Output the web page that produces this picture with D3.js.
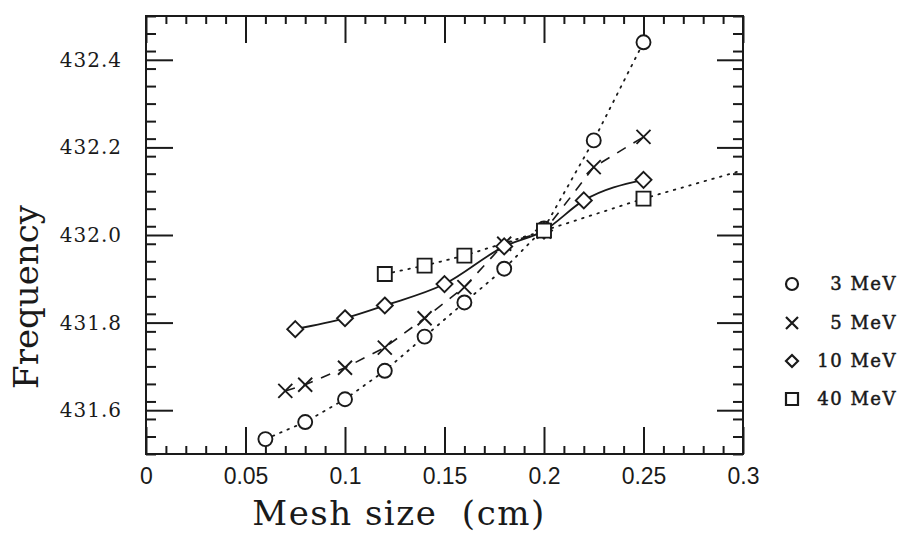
<!DOCTYPE html>
<html><head><meta charset="utf-8">
<script src="https://cdn.jsdelivr.net/npm/d3@7"></script>
<style>body{margin:0;background:#fff}svg{display:block}</style>
</head><body>
<svg id="c" width="906" height="535"></svg>
<script>
// ---- data ----
const xTicks = [0, 0.05, 0.1, 0.15, 0.2, 0.25, 0.3];
const xTickLabels = ["0", "0.05", "0.1", "0.15", "0.2", "0.25", "0.3"];
const yTicks = [431.6, 431.8, 432.0, 432.2, 432.4];
const yTickLabels = ["431.6", "431.8", "432.0", "432.2", "432.4"];
const legendLabels = ["3 MeV", "5 MeV", "10 MeV", "40 MeV"];

const mesh3 = [0.06, 0.08, 0.10, 0.12, 0.14, 0.16, 0.18, 0.20, 0.225, 0.25];
const freq3 = [431.534, 431.573, 431.625, 431.690, 431.768, 431.846, 431.923, 432.015, 432.216, 432.440];

const mesh5 = [0.07, 0.08, 0.10, 0.12, 0.14, 0.16, 0.18, 0.20, 0.225, 0.25];
const freq5 = [431.644, 431.658, 431.697, 431.743, 431.810, 431.881, 431.980, 432.008, 432.155, 432.224];

const mesh10 = [0.075, 0.10, 0.12, 0.15, 0.18, 0.20, 0.22, 0.25];
const freq10 = [431.785, 431.810, 431.839, 431.888, 431.974, 432.010, 432.079, 432.126];

const mesh40 = [0.12, 0.14, 0.16, 0.20, 0.25];
const freq40 = [431.911, 431.930, 431.953, 432.010, 432.083];
// dotted 40 MeV trend carried on to the frame edge
const mesh40Trend = [0.20, 0.25, 0.30];
const freq40Trend = [432.010, 432.083, 432.148];

// ---- layout ----
const svg = d3.select("#c");
const L = 146, R = 743, T = 16, B = 454;
const x = d3.scaleLinear().domain([0, 0.3]).range([L, R]);
const y = d3.scaleLinear().domain([431.5, 432.5]).range([B, T]);
const ink = "#1a1a1a";

// frame
svg.append("rect").attr("x", L).attr("y", T).attr("width", R - L).attr("height", B - T)
  .attr("fill", "none").attr("stroke", ink).attr("stroke-width", 2);

const xMinor = d3.range(0, 31).map(i => i / 100);
const yMinor = d3.range(0, 26).map(i => 431.5 + i * 0.04);
const isXMajor = v => Math.abs(Math.round(v * 20) - v * 20) < 1e-6;
const isYMajor = v => Math.abs(Math.round((v - 431.6) * 5) - (v - 431.6) * 5) < 1e-6;
const xMin = xMinor.filter(v => !isXMajor(v));
const yMin = yMinor.filter(v => !isYMajor(v));

// bottom & top axes (inward ticks)
svg.append("g").attr("transform", `translate(0,${B})`)
  .call(d3.axisBottom(x).tickValues(xMin).tickSizeInner(-8).tickSizeOuter(0).tickFormat(""));
const axB2 = svg.append("g").attr("transform", `translate(0,${B})`)
  .call(d3.axisBottom(x).tickValues(xTicks).tickSizeInner(-27).tickSizeOuter(0)
    .tickFormat((d, i) => xTickLabels[i]));
svg.append("g").attr("transform", `translate(0,${T})`)
  .call(d3.axisTop(x).tickValues(xMin).tickSizeInner(-8).tickSizeOuter(0).tickFormat(""));
svg.append("g").attr("transform", `translate(0,${T})`)
  .call(d3.axisTop(x).tickValues(xTicks).tickSizeInner(-27).tickSizeOuter(0).tickFormat(""));
// left & right
svg.append("g").attr("transform", `translate(${L},0)`)
  .call(d3.axisLeft(y).tickValues(yMin).tickSizeInner(-10).tickSizeOuter(0).tickFormat(""));
const axL2 = svg.append("g").attr("transform", `translate(${L},0)`)
  .call(d3.axisLeft(y).tickValues(yTicks).tickSizeInner(-27).tickSizeOuter(0).tickPadding(24)
    .tickFormat((d, i) => yTickLabels[i]));
svg.append("g").attr("transform", `translate(${R},0)`)
  .call(d3.axisRight(y).tickValues(yMin).tickSizeInner(-10).tickSizeOuter(0).tickFormat(""));
svg.append("g").attr("transform", `translate(${R},0)`)
  .call(d3.axisRight(y).tickValues(yTicks).tickSizeInner(-26).tickSizeOuter(0).tickFormat(""));

svg.selectAll(".domain").remove();
svg.selectAll(".tick line").attr("stroke", ink).attr("stroke-width", 2);
axB2.selectAll("text").attr("font-family", "Liberation Sans, Arial, sans-serif").attr("font-size", 23)
  .attr("fill", ink).attr("y", 14).attr("dy", "0.71em");
axL2.selectAll("text").attr("font-family", "DejaVu Serif, serif").attr("font-size", 20)
  .attr("letter-spacing", 1).attr("fill", ink);

// ---- series lines ----
const pts = (xs, ys) => xs.map((v, i) => [x(v), y(ys[i])]);
const line = d3.line();
const dot = "1.6,6.4";

svg.append("path").attr("d", line(pts(mesh3, freq3))).attr("fill", "none").attr("stroke", ink)
  .attr("stroke-width", 1.8).attr("stroke-dasharray", dot).attr("stroke-linecap", "round");
svg.append("path").attr("d", line(pts(mesh40.slice(0, 4), freq40.slice(0, 4)))).attr("fill", "none").attr("stroke", ink)
  .attr("stroke-width", 1.8).attr("stroke-dasharray", dot).attr("stroke-linecap", "round");
svg.append("path").attr("d", line(pts(mesh40Trend, freq40Trend))).attr("fill", "none").attr("stroke", ink)
  .attr("stroke-width", 1.8).attr("stroke-dasharray", dot).attr("stroke-linecap", "round");
svg.append("path").attr("d", line(pts(mesh5, freq5))).attr("fill", "none").attr("stroke", ink)
  .attr("stroke-width", 1.6).attr("stroke-dasharray", "10,9");
svg.append("path").attr("d", d3.line().curve(d3.curveMonotoneX)(pts(mesh10, freq10))).attr("fill", "none")
  .attr("stroke", ink).attr("stroke-width", 1.8);

// ---- markers ----
const sym = {
  circle: s => { const r = s / 2; return `M${r},0A${r},${r},0,1,1,${-r},0A${r},${r},0,1,1,${r},0Z`; },
  cross: s => { const r = s / 2; return `M${-r},${-r}L${r},${r}M${r},${-r}L${-r},${r}`; },
  diamond: s => { const r = s / 2; return `M0,${-r}L${r},0L0,${r}L${-r},0Z`; },
  square: s => { const r = s / 2; return `M${-r},${-r}H${r}V${r}H${-r}Z`; }
};
function markers(xs, ys, kind, size) {
  svg.append("g").selectAll("path").data(xs).join("path")
    .attr("transform", (d, i) => `translate(${x(d)},${y(ys[i])})`)
    .attr("d", sym[kind](size))
    .attr("fill", kind === "cross" ? "none" : "#fff").attr("stroke", ink).attr("stroke-width", 1.9);
}
markers(mesh3, freq3, "circle", 14);
markers(mesh5, freq5, "cross", 14);
markers(mesh10, freq10, "diamond", 16);
markers(mesh40, freq40, "square", 14);

// ---- axis titles ----
svg.append("text").attr("x", 399).attr("y", 525).attr("text-anchor", "middle")
  .attr("font-family", "DejaVu Serif, serif").attr("font-size", 34).attr("letter-spacing", 1.5).attr("fill", ink)
  .attr("xml:space", "preserve").style("white-space", "pre").text("Mesh size  (cm)");
svg.append("text").attr("transform", "translate(38,297) rotate(-90)").attr("text-anchor", "middle")
  .attr("font-family", "DejaVu Serif, serif").attr("font-size", 34).attr("fill", ink).text("Frequency");

// ---- legend ----
const legKinds = ["circle", "cross", "diamond", "square"];
const legY = [284, 323, 361, 399];
const leg = svg.append("g");
legendLabels.forEach((lab, i) => {
  leg.append("path").attr("transform", `translate(792,${legY[i]})`).attr("d", sym[legKinds[i]](12))
    .attr("fill", "none").attr("stroke", ink).attr("stroke-width", 2.2);
  leg.append("text").attr("x", 897).attr("y", legY[i]).attr("dy", "0.36em").attr("text-anchor", "end")
    .attr("font-family", "DejaVu Serif, serif").attr("font-size", 18)
    .attr("stroke", ink).attr("stroke-width", 0.5)
    .attr("letter-spacing", 1.5).attr("fill", ink).attr("xml:space", "preserve").style("white-space", "pre").text(lab);
});
</script>
</body></html>
